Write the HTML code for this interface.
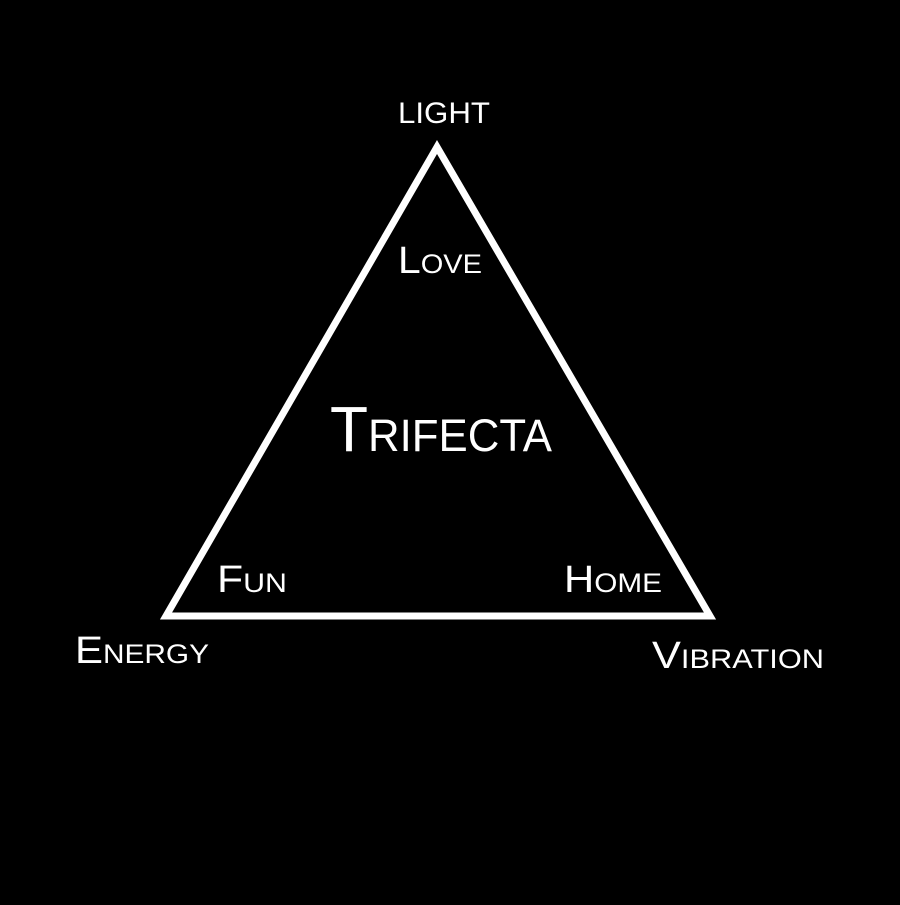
<!DOCTYPE html>
<html><head><style>
html,body{margin:0;padding:0;background:#000;}
svg text{font-family:"Liberation Sans",sans-serif;fill:#fff;font-variant:small-caps;}
</style></head><body>
<svg width="900" height="900" xmlns="http://www.w3.org/2000/svg">
<rect width="900" height="900" fill="#000"/>
<polygon points="437,147 166,616 710,616" fill="none" stroke="#fff" stroke-width="7" stroke-linejoin="miter"/>
<text x="444" y="123" font-size="30" text-anchor="middle" textLength="92" lengthAdjust="spacingAndGlyphs">LIGHT</text>
<text x="440" y="273" font-size="38" text-anchor="middle" textLength="84" lengthAdjust="spacingAndGlyphs">Love</text>
<text x="441" y="451" font-size="64" text-anchor="middle" textLength="222" lengthAdjust="spacingAndGlyphs">Trifecta</text>
<text x="252" y="592" font-size="38" text-anchor="middle" textLength="70" lengthAdjust="spacingAndGlyphs">Fun</text>
<text x="613" y="592" font-size="38" text-anchor="middle" textLength="98" lengthAdjust="spacingAndGlyphs">Home</text>
<text x="142" y="663" font-size="38" text-anchor="middle" textLength="134" lengthAdjust="spacingAndGlyphs">Energy</text>
<text x="738" y="668" font-size="38" text-anchor="middle" textLength="172" lengthAdjust="spacingAndGlyphs">Vibration</text>
</svg>
</body></html>
